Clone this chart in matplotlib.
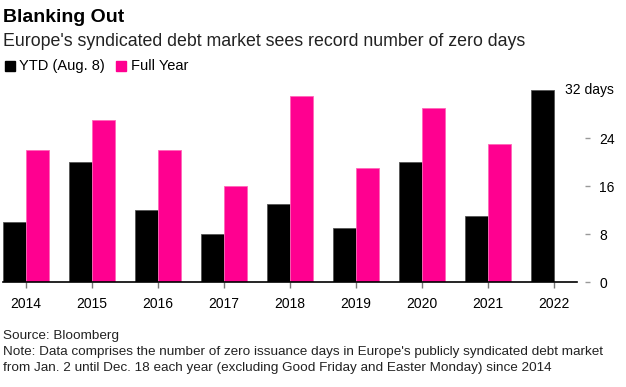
import matplotlib
matplotlib.use("Agg")
import matplotlib.pyplot as plt
import numpy as np

plt.rcParams["font.family"] = ["Liberation Sans", "DejaVu Sans"]

years = ["2014", "2015", "2016", "2017", "2018", "2019", "2020", "2021", "2022"]
ytd = [10, 20, 12, 8, 13, 9, 20, 11, 32]
full_year = [22, 27, 22, 16, 31, 19, 29, 23, None]
y_ticks = [0, 8, 16, 24]
y_labels = ["0", "8", "16", "24"]
y_top = 32
y_top_label = "32 days"

BLACK = "#000000"
PINK = "#ff0090"

W, H = 626, 387
fig = plt.figure(figsize=(W / 100, H / 100), dpi=100)

# axes box in pixels: left 3, right 577, top 90 (=32), bottom 282 (=0)
ax = fig.add_axes([3 / W, (H - 282) / H, (577 - 3) / W, (282 - 90) / H])

x = np.arange(len(years))
w = 0.35
ax.bar(x - w / 2, ytd, width=w, color=BLACK, edgecolor="#555555", linewidth=0.6)
fx = [i for i, v in enumerate(full_year) if v is not None]
fv = [v for v in full_year if v is not None]
ax.bar(np.array(fx) + w / 2, fv, width=w, color=PINK, edgecolor="#ff66b8", linewidth=0.6)

ax.set_xlim(-w, len(years) - 1 + w)
ax.set_ylim(0, y_top)

ax.set_xticks(x)
ax.set_xticklabels(years, fontsize=10)
ax.tick_params(axis="x", length=4, width=1, color="#777777", pad=7)

ax.yaxis.tick_right()
ax.set_yticks(y_ticks)
ax.set_yticklabels(y_labels, fontsize=10)
ax.tick_params(axis="y", length=3.6, width=1, color="#999999", pad=6.5)
ax.spines["right"].set_position(("outward", 6))
ax.text(614 / W, 1 - 90 / H, y_top_label, transform=fig.transFigure,
        fontsize=10, ha="right", va="center")

for s in ["top", "left", "right"]:
    ax.spines[s].set_visible(False)
ax.spines["bottom"].set_linewidth(1.2)
ax.spines["bottom"].set_zorder(3)

# titles
fig.text(3 / W, 1 - 17 / H, "Blanking Out", fontsize=14, fontweight="bold", va="center")
fig.text(3 / W, 1 - 42 / H, "Europe's syndicated debt market sees record number of zero days",
         fontsize=12.75, va="center", color="#222222")

# legend
fig.patches.append(plt.Rectangle((5 / W, 1 - 71 / H), 10 / W, 10 / H, color=BLACK,
                                 transform=fig.transFigure))
fig.text(19 / W, 1 - 66 / H, "YTD (Aug. 8)", fontsize=10.5, va="center")
fig.patches.append(plt.Rectangle((116 / W, 1 - 71 / H), 10 / W, 10 / H, color=PINK,
                                 transform=fig.transFigure))
fig.text(131 / W, 1 - 66 / H, "Full Year", fontsize=10.5, va="center")

# footer
fig.text(3 / W, 1 - 336 / H, "Source: Bloomberg", fontsize=9.7, va="center", color="#222222")
fig.text(3 / W, 1 - 352 / H,
         "Note: Data comprises the number of zero issuance days in Europe's publicly syndicated debt market",
         fontsize=9.7, va="center", color="#222222")
fig.text(3 / W, 1 - 368 / H,
         "from Jan. 2 until Dec. 18 each year (excluding Good Friday and Easter Monday) since 2014",
         fontsize=9.7, va="center", color="#222222")

fig.savefig("out.png", dpi=100)
